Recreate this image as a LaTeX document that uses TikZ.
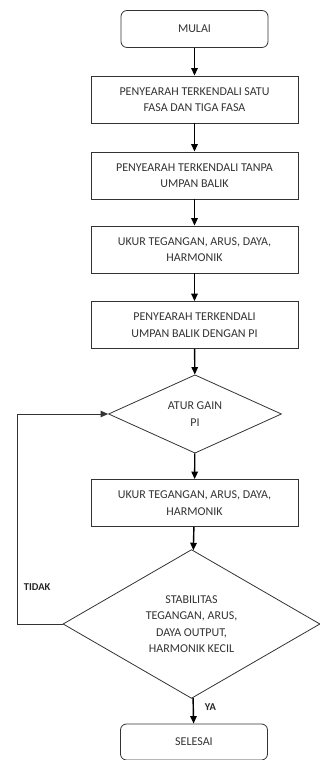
\documentclass[tikz,border=0pt]{standalone}
\usepackage{fontspec}
\setmainfont{Carlito}
\usepackage{tikz}
\usetikzlibrary{arrows.meta,shapes.geometric}

\tikzset{
  txt/.style={text=black!80,font=\fontsize{12}{16.5}\selectfont,align=center,inner sep=0.75pt},
  termbox/.style={txt,draw=black!80,line width=0.8pt,rounded corners=6pt,minimum width=147pt,minimum height=37pt},
  procbox/.style={txt,draw=black!80,line width=0.8pt,minimum width=207pt,minimum height=47pt},
  decbox/.style={txt,draw=black!80,line width=0.8pt,diamond,inner sep=0pt},
  flow/.style={line width=1.4pt,-{Triangle[width=6.5pt,length=7.5pt]}},
  back/.style={draw=black!80,line width=0.8pt,-{Triangle[width=6.5pt,length=7.5pt]}},
  lbl/.style={anchor=west,inner sep=0.75pt,font=\bfseries\fontsize{10.5}{12}\selectfont,text=black!85}
}

\begin{document}
\begin{tikzpicture}[x=1pt,y=1pt]
\useasboundingbox (0,0) rectangle (320,760);
\node [termbox] (mulai) at (194.5,731) {MULAI};
\node [procbox] (satu) at (194.5,660.5) {PENYEARAH TERKENDALI SATU\\FASA DAN TIGA FASA};
\node [procbox] (tanpa) at (194.5,584.5) {PENYEARAH TERKENDALI TANPA\\UMPAN BALIK};
\node [procbox] (ukura) at (194.5,510.5) {UKUR TEGANGAN, ARUS, DAYA,\\HARMONIK};
\node [procbox] (pi) at (194.5,435) {PENYEARAH TERKENDALI\\UMPAN BALIK DENGAN PI};
\node [decbox,minimum width=173pt,minimum height=74pt] (gain) at (195,346) {ATUR GAIN\\PI};
\node [procbox] (ukurb) at (194.5,257) {UKUR TEGANGAN, ARUS, DAYA,\\HARMONIK};
\node [decbox,minimum width=257pt,minimum height=142pt] (stab) at (191.5,136) {STABILITAS\\TEGANGAN, ARUS,\\DAYA OUTPUT,\\HARMONIK KECIL};
\node [termbox,minimum height=36pt] (selesai) at (194,18) {SELESAI};
\coordinate (kiri) at (17,0);
%Arrows
\draw [flow] (mulai) -- (satu);
\draw [flow] (satu) -- (tanpa);
\draw [flow] (tanpa) -- (ukura);
\draw [flow] (ukura) -- (pi);
\draw [flow] (pi) -- (gain);
\draw [flow] (gain) -- (ukurb);
\draw [flow] (ukurb) -- (stab);
\draw [flow] (stab) -- (selesai);
\draw [back] (stab.west) -| (kiri |- gain.west) -- (gain.west);
%Text
\node [lbl] (tidak) at (23,173) {TIDAK};
\node [lbl] (ya) at (204,53) {YA};
\end{tikzpicture}
\end{document}
